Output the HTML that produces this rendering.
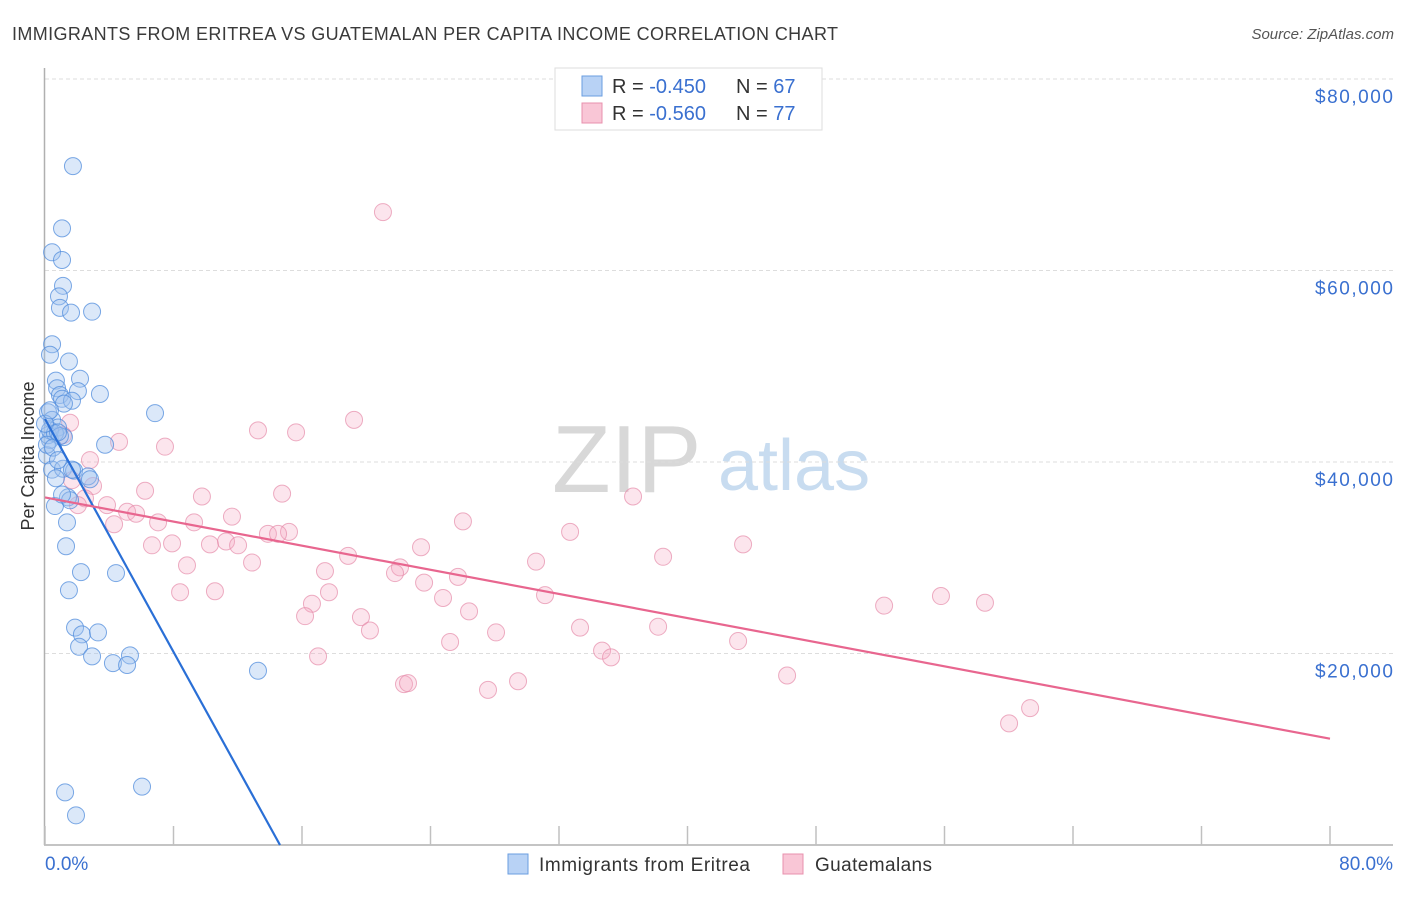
<!DOCTYPE html>
<html><head><meta charset="utf-8">
<style>
body{margin:0;background:#fff;font-family:"Liberation Sans",sans-serif;}
svg text{font-family:"Liberation Sans",sans-serif;}
</style></head>
<body>
<svg id="chart" width="1406" height="892" viewBox="0 0 1406 892" xmlns="http://www.w3.org/2000/svg">
<text x="12" y="40" font-size="18" fill="#3a3a3a" textLength="826" lengthAdjust="spacing">IMMIGRANTS FROM ERITREA VS GUATEMALAN PER CAPITA INCOME CORRELATION CHART</text>
<text x="1394" y="39" font-size="15" fill="#555" text-anchor="end" font-style="italic">Source: ZipAtlas.com</text>
<g>
<text x="552" y="492" font-size="96" fill="#d8d8d8" font-family="Liberation Serif, serif">ZIP</text>
<text x="718" y="490" font-size="72" fill="#c8dcf0">atlas</text>
</g>
<g id="grid"></g>
<g id="axes"></g>
<g id="pinkPts"></g>
<g id="bluePts"></g>
<g id="trends"></g>
<text transform="translate(34,456) rotate(-90)" font-size="18" fill="#333" text-anchor="middle">Per Capita Income</text>
<g>
<rect x="555" y="68" width="267" height="62" fill="#fff" stroke="#ddd"/>
<rect x="582" y="76" width="20" height="20" fill="#b8d2f5" stroke="#6a9ee0"/>
<rect x="582" y="103" width="20" height="20" fill="#f9c6d6" stroke="#e890ad"/>
<text x="612" y="93" font-size="20" fill="#333">R = <tspan fill="#3a70d0">-0.450</tspan></text>
<text x="736" y="93" font-size="20" fill="#333">N = <tspan fill="#3a70d0">67</tspan></text>
<text x="612" y="120" font-size="20" fill="#333">R = <tspan fill="#3a70d0">-0.560</tspan></text>
<text x="736" y="120" font-size="20" fill="#333">N = <tspan fill="#3a70d0">77</tspan></text>
</g>
<g>
<rect x="508" y="854" width="20" height="20" fill="#b8d2f5" stroke="#6a9ee0"/>
<text x="539" y="871" font-size="19" fill="#333" textLength="211">Immigrants from Eritrea</text>
<rect x="783" y="854" width="20" height="20" fill="#f9c6d6" stroke="#e890ad"/>
<text x="815" y="871" font-size="19" fill="#333" textLength="117">Guatemalans</text>
</g>
</svg>
<script>
const blueX=[1.74,1.06,0.44,1.06,1.12,0.87,0.93,1.62,2.93,0.44,0.31,1.49,0.68,2.18,0.75,0.93,2.05,3.42,1.06,1.68,0.19,6.85,0.44,0.81,1.18,3.74,0.31,0.12,0.44,1.12,1.81,2.68,0.68,2.80,1.43,0.62,1.37,1.31,2.24,4.42,1.49,1.87,2.30,3.30,2.12,2.93,5.29,4.23,5.11,13.26,1.25,6.04,1.93,0.19,0.31,0.62,0.93,0.12,1.56,0.50,0.81,0.0,1.18,0.31,0.81,1.68,1.06];
const blueY=[70.9,64.4,61.9,61.1,58.4,57.3,56.1,55.6,55.7,52.3,51.2,50.5,48.5,48.7,47.7,47.0,47.4,47.1,46.6,46.4,45.2,45.1,44.4,43.6,42.6,41.8,42.3,40.7,39.2,39.3,39.1,38.5,38.3,38.2,36.3,35.4,33.7,31.2,28.5,28.4,26.6,22.7,22.0,22.2,20.7,19.7,19.8,19.0,18.8,18.2,5.5,6.1,3.1,42.8,43.3,43.0,42.7,41.8,36.0,41.5,40.2,44.0,46.1,45.4,43.1,39.2,36.6];
const pinkX=[21.04,19.24,13.26,15.63,4.61,7.47,1.56,1.12,2.80,1.68,2.99,6.23,9.77,14.76,36.61,2.49,3.86,2.05,5.11,5.67,7.04,9.28,11.64,26.02,4.30,32.69,6.66,7.91,10.27,11.27,12.02,13.88,15.19,14.51,23.41,43.46,18.87,38.48,8.84,12.89,30.57,17.43,22.10,21.79,25.71,23.60,8.41,10.58,17.68,31.13,52.24,55.78,58.52,16.62,16.19,19.67,26.40,24.78,20.23,28.08,33.31,38.17,25.22,43.15,17.00,34.68,35.24,46.20,22.35,22.60,29.45,27.58,61.33,60.02];
const pinkY=[66.1,44.4,43.3,43.1,42.1,41.6,44.1,42.8,40.2,38.1,37.5,37.0,36.4,36.7,36.4,36.2,35.5,35.5,34.8,34.6,33.7,33.7,34.3,33.8,33.5,32.7,31.3,31.5,31.4,31.7,31.3,32.5,32.7,32.5,31.1,31.4,30.2,30.1,29.2,29.5,29.6,28.6,29.0,28.4,28.0,27.4,26.4,26.5,26.4,26.1,25.0,26.0,25.3,25.2,23.9,23.8,24.4,25.8,22.4,22.2,22.7,22.8,21.2,21.3,19.7,20.3,19.6,17.7,16.8,16.9,17.1,16.2,14.3,12.7];
const blueTrendX=[0,14.63];
const blueTrendY=[44.5,0];
const pinkTrendX=[0,80];
const pinkTrendY=[36.3,11.1];
const yTicks=[20,40,60,80];
const yTickLabels=["$20,000","$40,000","$60,000","$80,000"];
const xTicks=[0,8,16,24,32,40,48,56,64,72,80];

const NS="http://www.w3.org/2000/svg";
const X=v=>45+v/80*1285;
const Y=v=>845-v/20*191.5;
function mk(t,a,p){const e=document.createElementNS(NS,t);for(const k in a)e.setAttribute(k,a[k]);p.appendChild(e);return e;}
const grid=document.getElementById('grid'),axes=document.getElementById('axes');
yTicks.forEach((v,i)=>{
  const l=mk('line',{x1:45,x2:1393,y1:Y(v),y2:Y(v),stroke:'#ddd','stroke-dasharray':'4,3'},grid);
  
  
  const t=mk('text',{x:1393,y:Y(v)+24,'font-size':19,fill:'#3a70d0','text-anchor':'end',textLength:78},axes);
  t.textContent=yTickLabels[i];
  
  
});
mk('line',{x1:44.5,x2:44.5,y1:68,y2:845,stroke:'#b0b0b0','stroke-width':1.5},axes);
mk('line',{x1:44,x2:1393,y1:845,y2:845,stroke:'#b0b0b0','stroke-width':1.5},axes);
xTicks.forEach(v=>{
  const l=mk('line',{x1:X(v),x2:X(v),y1:826,y2:845,stroke:'#c0c0c0','stroke-width':1.5},axes);
  
  
});
const x0=mk('text',{x:45,y:870,'font-size':19,fill:'#3a70d0'},axes);x0.textContent='0.0%';


const x1=mk('text',{x:1393,y:870,'font-size':19,fill:'#3a70d0','text-anchor':'end'},axes);x1.textContent='80.0%';


const pg=document.getElementById('pinkPts');
pinkX.forEach((v,i)=>{
  const c=mk('circle',{cx:X(v),cy:Y(pinkY[i]),r:8.5,fill:'rgba(244,170,195,0.3)',stroke:'rgba(230,140,170,0.7)','stroke-width':1},pg);
  
  
});
const bg=document.getElementById('bluePts');
blueX.forEach((v,i)=>{
  const c=mk('circle',{cx:X(v),cy:Y(blueY[i]),r:8.5,fill:'rgba(160,195,240,0.38)',stroke:'rgba(80,140,220,0.75)','stroke-width':1},bg);
  
  
});
const tg=document.getElementById('trends');
const tb=mk('line',{x1:X(blueTrendX[0]),y1:Y(blueTrendY[0]),x2:X(blueTrendX[1]),y2:Y(blueTrendY[1]),stroke:'#2a6fd6','stroke-width':2.2},tg);


const tp=mk('line',{x1:X(pinkTrendX[0]),y1:Y(pinkTrendY[0]),x2:X(pinkTrendX[1]),y2:Y(pinkTrendY[1]),stroke:'#e8668f','stroke-width':2.2},tg);


</script>
</body></html>
